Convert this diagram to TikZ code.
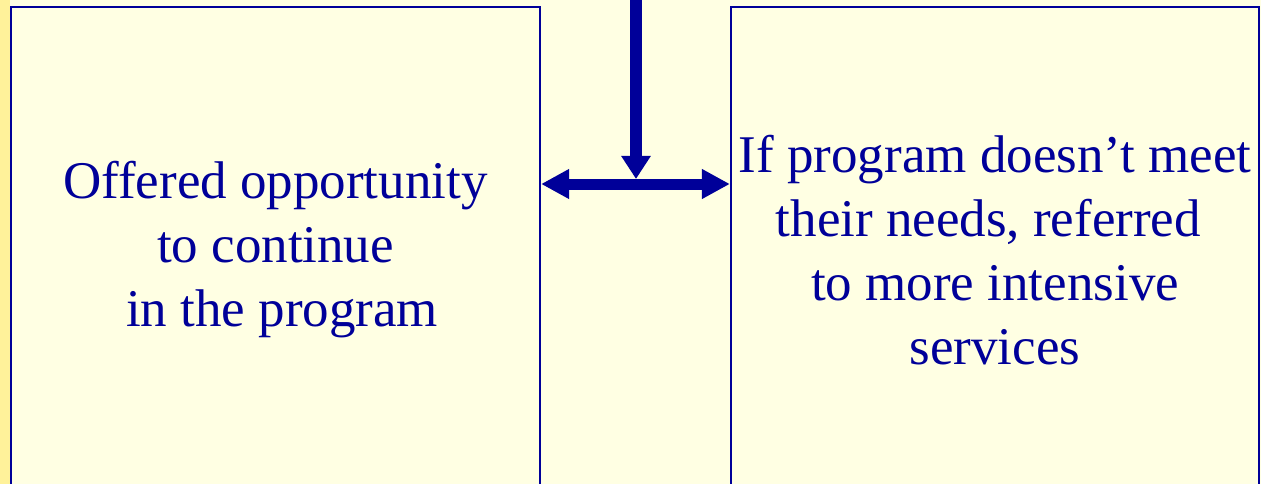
\documentclass[tikz,border=0pt]{standalone}
\usepackage{fontspec}
\setmainfont{Liberation Serif}
\usetikzlibrary{arrows.meta}
\definecolor{navy}{HTML}{000099}
\definecolor{cream}{HTML}{FFFFE3}
\definecolor{sidebar}{HTML}{FFF29A}
\tikzset{
  panel/.style={draw=navy, line width=2.2pt, fill=cream, minimum width=#1, minimum height=486pt,
    inner sep=0pt, text=navy, align=center, font=\fontsize{53}{64}\selectfont},
  flow/.style={draw=navy, line width=11.5pt, -{Triangle[length=23pt,width=28pt]}},
  biflow/.style={draw=navy, line width=11pt, {Triangle[length=28pt,width=28pt]}-{Triangle[length=28pt,width=28pt]}}
}
\begin{document}
\begin{tikzpicture}[x=1pt,y=-1pt]
  \useasboundingbox (0,0) rectangle (1261,484);
  \clip (0,0) rectangle (1261,484);
  \fill[cream] (0,0) rectangle (1261,484);
  \fill[sidebar] (0,0) rectangle (10,484);

  % two outcome panels, running past the lower edge
  \node[panel=529pt] (stay) at (275.5,250)
    {Offered opportunity\\to continue\\\mbox{}~in the program};
  \node[panel=528pt] (refer) at (995,250)
    {If program doesn’t meet\\their needs, referred~\mbox{}\\to more intensive\\services};

  % incoming arrow from above and the split between the panels
  \coordinate (src) at (636,-5);
  \coordinate (mid) at (636,184);
  \coordinate (join) at (636,179);
  \draw[flow] (src) -- (join);
  \draw[biflow] (stay.east |- mid) -- (refer.west |- mid);
\end{tikzpicture}
\end{document}
